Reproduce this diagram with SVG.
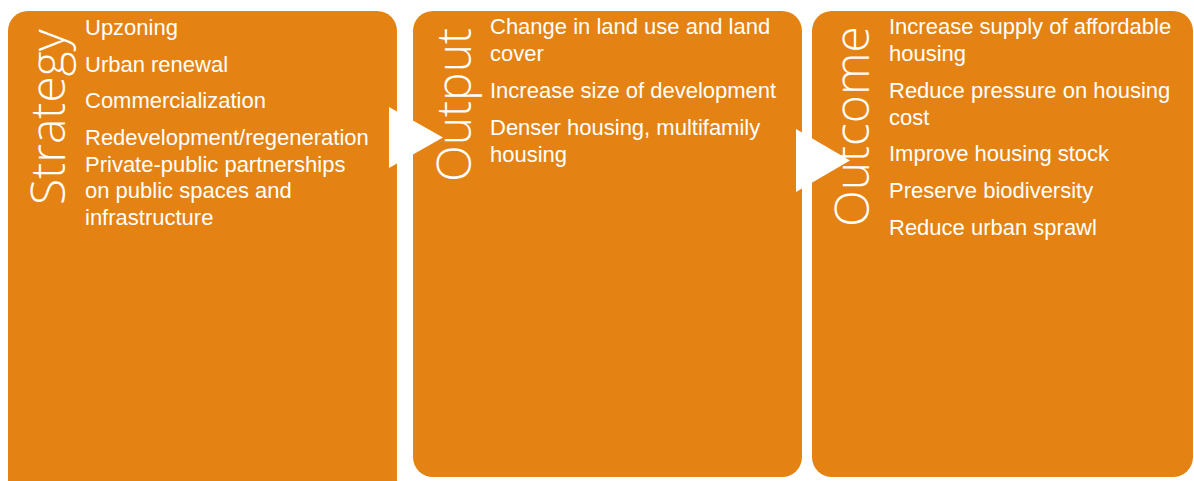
<svg xmlns="http://www.w3.org/2000/svg" width="1194" height="481" viewBox="0 0 1194 481">
<style>
.box{fill:#E48313;}
.title{font-family:"Open Sans","Liberation Sans",sans-serif;font-weight:300;font-size:48px;fill:#FFFFFF;}
.item{font-family:"Liberation Sans",Arial,sans-serif;font-size:22px;fill:#FFFFFF;}
.arrow{fill:#FFFFFF;}
</style>
<rect width="1194" height="481" fill="#FFFFFF"/>
<g id="strategy">
<rect class="box" x="8" y="11" width="389" height="495" rx="20" ry="20"/>
<text class="title" transform="translate(65,205) rotate(-90)">Strategy</text>
<text class="item" x="85" y="35">Upzoning</text>
<text class="item" x="85" y="72">Urban renewal</text>
<text class="item" x="85" y="108">Commercialization</text>
<text class="item" x="85" y="145">Redevelopment/regeneration</text>
<text class="item" x="85" y="171.5">Private-public partnerships</text>
<text class="item" x="85" y="198">on public spaces and</text>
<text class="item" x="85" y="224.5">infrastructure</text>
</g>
<g id="output">
<rect class="box" x="413" y="11" width="389" height="466" rx="20" ry="20"/>
<text class="title" transform="translate(471,182) rotate(-90)">Output</text>
<text class="item" x="490" y="34">Change in land use and land</text>
<text class="item" x="490" y="61">cover</text>
<text class="item" x="490" y="98">Increase size of development</text>
<text class="item" x="490" y="135">Denser housing, multifamily</text>
<text class="item" x="490" y="161.5">housing</text>
</g>
<g id="outcome">
<rect class="box" x="812" y="11" width="381" height="466" rx="20" ry="20"/>
<text class="title" transform="translate(869,227) rotate(-90)">Outcome</text>
<text class="item" x="889" y="34">Increase supply of affordable</text>
<text class="item" x="889" y="61">housing</text>
<text class="item" x="889" y="98">Reduce pressure on housing</text>
<text class="item" x="889" y="124.5">cost</text>
<text class="item" x="889" y="161">Improve housing stock</text>
<text class="item" x="889" y="198">Preserve biodiversity</text>
<text class="item" x="889" y="234.5">Reduce urban sprawl</text>
</g>
<g id="connectors">
<polygon class="arrow" points="389,107 443,137.5 389,168"/>
<polygon class="arrow" points="796,129 850,160.5 796,192"/>
</g>
</svg>
